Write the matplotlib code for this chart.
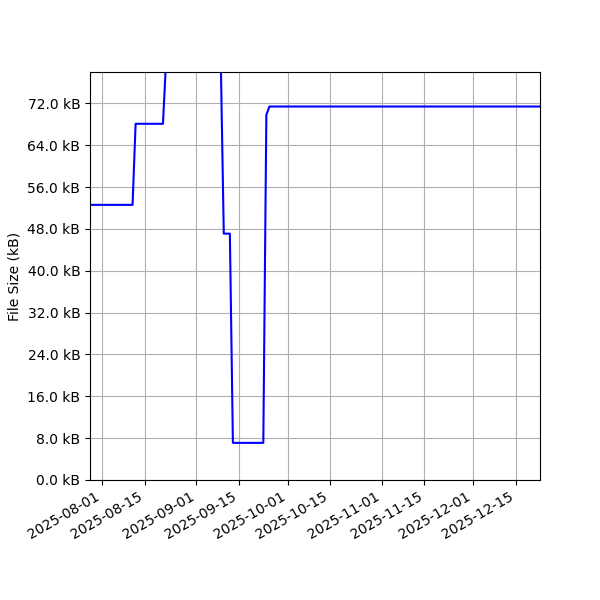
import matplotlib
matplotlib.use("Agg")
import matplotlib.pyplot as plt
import matplotlib.dates as mdates
import matplotlib.ticker as ticker
import numpy as np

# file size history (kB)
dates = ["2025-07-28", "2025-08-11", "2025-08-12", "2025-08-21", "2025-08-22",
         "2025-09-09", "2025-09-10", "2025-09-12", "2025-09-13", "2025-09-23",
         "2025-09-24", "2025-09-25", "2025-12-23"]
sizes_kb = [52.6, 52.6, 68.1, 68.1, 80.0,
            80.5, 47.1, 47.1, 7.1, 7.1,
            69.8, 71.4, 71.4]

x = np.array(dates, dtype="datetime64[D]")

fig, ax = plt.subplots(figsize=(6, 6), dpi=100)
ax.plot(x, sizes_kb, color="blue")

ax.set_xlim(np.datetime64("2025-07-28"), np.datetime64("2025-12-23"))
ax.set_ylim(0, 78)
ax.set_ylabel("File Size (kB)")
ax.yaxis.set_major_locator(ticker.MultipleLocator(8))
ax.yaxis.set_major_formatter(ticker.FuncFormatter(lambda v, p: "%.1f kB" % v))
ax.xaxis.set_major_locator(mdates.DayLocator(bymonthday=[1, 15]))
ax.xaxis.set_major_formatter(mdates.DateFormatter("%Y-%m-%d"))
ax.grid(True)

fig.autofmt_xdate()
fig.subplots_adjust(left=0.15, right=0.9, top=0.88, bottom=0.2)
fig.savefig("out.png")
